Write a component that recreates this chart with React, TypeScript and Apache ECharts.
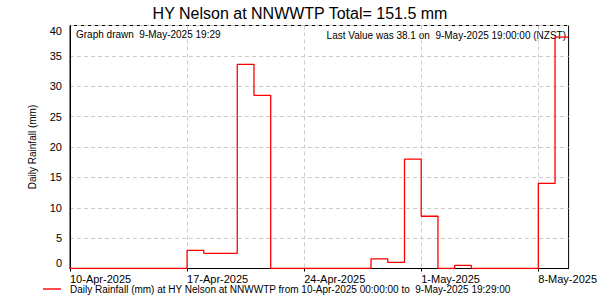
import React, { useEffect, useRef } from 'react';
import * as echarts from 'echarts';

// Daily rainfall, 10-Apr-2025 .. 9-May-2025 (one value per day)
const days = [
  '10-Apr-2025', '11-Apr-2025', '12-Apr-2025', '13-Apr-2025', '14-Apr-2025', '15-Apr-2025',
  '16-Apr-2025', '17-Apr-2025', '18-Apr-2025', '19-Apr-2025', '20-Apr-2025', '21-Apr-2025',
  '22-Apr-2025', '23-Apr-2025', '24-Apr-2025', '25-Apr-2025', '26-Apr-2025', '27-Apr-2025',
  '28-Apr-2025', '29-Apr-2025', '30-Apr-2025', '1-May-2025', '2-May-2025', '3-May-2025',
  '4-May-2025', '5-May-2025', '6-May-2025', '7-May-2025', '8-May-2025', '9-May-2025',
];
const rainfall = [
  0, 0, 0, 0, 0, 0,
  0, 3.0, 2.5, 2.5, 33.6, 28.5,
  0, 0, 0, 0, 0, 0,
  1.6, 1.0, 18.0, 8.6, 0, 0.5,
  0, 0, 0, 0, 14.0, 38.1,
];
const xTickDays = [0, 7, 14, 21, 28];
const xTickLabels = ['10-Apr-2025', '17-Apr-2025', '24-Apr-2025', '1-May-2025', '8-May-2025'];
// axis ends at 9-May-2025 19:29 (day 29 + 19h29m)
const axisEndDay = 29 + (19 * 60 + 29) / 1440;
const yMax = 40;
const yInterval = 5;

const titleText = 'HY Nelson at NNWWTP Total= 151.5 mm';
const drawnText = 'Graph drawn  9-May-2025 19:29';
const lastValueText = 'Last Value was 38.1 on  9-May-2025 19:00:00 (NZST)';
const seriesName = 'Daily Rainfall (mm) at HY Nelson at NNWWTP from 10-Apr-2025 00:00:00 to  9-May-2025 19:29:00';
const yAxisName = 'Daily Rainfall (mm)';

const FONT = 'Liberation Sans';

export default function App() {
  const ref = useRef<HTMLDivElement>(null);
  useEffect(() => {
    if (!ref.current) return;
    const chart = echarts.init(ref.current, undefined, { renderer: 'svg' });
    const data: number[][] = rainfall.map((v, i) => [i, v]);
    data.push([axisEndDay, rainfall[rainfall.length - 1]]);
    chart.setOption({
      animation: false,
      backgroundColor: '#ffffff',
      textStyle: { fontFamily: FONT },
      title: {
        text: titleText,
        left: 'center',
        top: 0,
        textStyle: { fontFamily: FONT, fontSize: 16, fontWeight: 'normal', color: '#000' },
      },
      grid: {
        left: 70,
        top: 25.5,
        width: 502,
        height: 243,
        show: true,
        borderColor: '#000',
        borderWidth: 1,
        backgroundColor: 'transparent',
      },
      legend: {
        data: [seriesName],
        left: 38,
        top: 279,
        itemWidth: 18,
        itemHeight: 1.4,
        icon: 'rect',
        textStyle: { fontFamily: FONT, fontSize: 10, color: '#000', padding: [0, 0, 0, 4] },
      },
      xAxis: {
        type: 'value',
        min: 0,
        max: axisEndDay,
        interval: 7,
        axisLine: { show: true, lineStyle: { color: '#000', width: 1 } },
        axisTick: { show: true, length: 3, lineStyle: { color: '#000' }, customValues: xTickDays },
        axisLabel: {
          customValues: xTickDays,
          fontFamily: FONT,
          fontSize: 11,
          color: '#000',
          align: 'left',
          margin: 5,
          formatter: (v: number) => {
            const idx = xTickDays.indexOf(Math.round(v));
            return idx >= 0 && Math.abs(v - Math.round(v)) < 1e-6 ? xTickLabels[idx] : '';
          },
        },
        splitLine: { show: true, lineStyle: { color: '#cccccc', type: [4, 3], width: 1 } },
      },
      yAxis: {
        type: 'value',
        min: 0,
        max: yMax,
        interval: yInterval,
        name: yAxisName,
        nameLocation: 'middle',
        nameGap: 33,
        nameRotate: 90,
        nameTextStyle: { fontFamily: FONT, fontSize: 10, color: '#000' },
        axisLine: { show: true, lineStyle: { color: '#000' } },
        axisTick: { show: false },
        axisLabel: {
          fontFamily: FONT,
          fontSize: 11,
          color: '#000',
          margin: 8,
          verticalAlignMinLabel: 'bottom',
          verticalAlignMaxLabel: 'top',
        },
        splitLine: { show: true, lineStyle: { color: '#cccccc', type: [4, 3], width: 1 } },
      },
      graphic: [
        {
          type: 'text',
          left: 76,
          top: 29,
          style: { text: drawnText, fontFamily: FONT, fontSize: 10, fill: '#000' },
        },
        {
          type: 'text',
          right: 34,
          top: 30,
          style: { text: lastValueText, fontFamily: FONT, fontSize: 10, fill: '#000' },
        },
      ],
      series: [
        {
          name: seriesName,
          type: 'line',
          step: 'end',
          data,
          showSymbol: false,
          symbol: 'none',
          lineStyle: { color: '#ff0000', width: 1.3 },
          itemStyle: { color: '#ff0000' },
          clip: true,
        },
      ],
    });
    return () => chart.dispose();
  }, []);
  return <div ref={ref} style={{ position: 'absolute', left: 0, top: 0, width: 600, height: 300 }} />;
}
